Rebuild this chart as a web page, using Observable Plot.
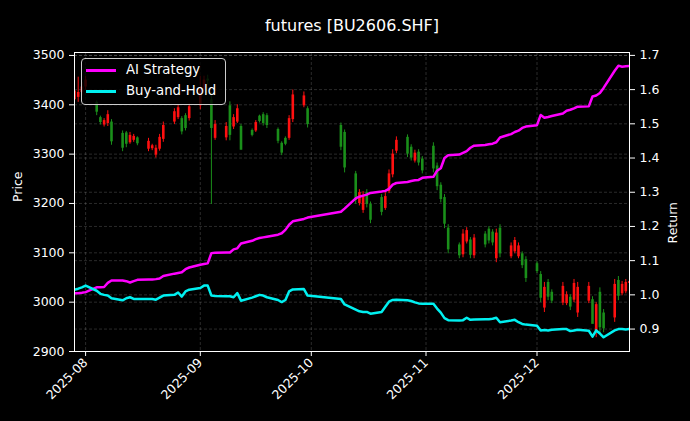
<!DOCTYPE html>
<html><head><meta charset="utf-8">
<script src="https://cdn.jsdelivr.net/npm/d3@7"></script>
<script src="https://cdn.jsdelivr.net/npm/@observablehq/plot@0.6"></script>
<style>
html,body{margin:0;padding:0;background:#000;}
#wrap{position:relative;width:690px;height:421px;overflow:hidden;font-family:"DejaVu Sans",sans-serif;}
#legend{position:absolute;left:81px;top:58px;width:145px;height:47px;box-sizing:border-box;border:1px solid #cccccc;border-radius:4px;background:rgba(0,0,0,0.8);color:#fff;font-size:13.3px;}
.sw{position:absolute;left:4px;width:30px;height:2.5px;}
.lt{position:absolute;left:44px;line-height:15px;white-space:nowrap;}
</style></head><body><div id="wrap"><div id="chart"></div><div id="legend"></div></div>
<script>
const dates = ["2025-07-29","2025-07-30","2025-07-31","2025-08-01","2025-08-04","2025-08-05","2025-08-06","2025-08-07","2025-08-08","2025-08-11","2025-08-12","2025-08-13","2025-08-14","2025-08-15","2025-08-18","2025-08-19","2025-08-20","2025-08-21","2025-08-22","2025-08-25","2025-08-26","2025-08-27","2025-08-28","2025-08-29","2025-09-01","2025-09-02","2025-09-03","2025-09-04","2025-09-05","2025-09-08","2025-09-09","2025-09-10","2025-09-11","2025-09-12","2025-09-15","2025-09-16","2025-09-17","2025-09-18","2025-09-19","2025-09-22","2025-09-23","2025-09-24","2025-09-25","2025-09-26","2025-09-29","2025-09-30","2025-10-09","2025-10-10","2025-10-13","2025-10-14","2025-10-15","2025-10-16","2025-10-17","2025-10-20","2025-10-21","2025-10-22","2025-10-23","2025-10-24","2025-10-27","2025-10-28","2025-10-29","2025-10-30","2025-10-31","2025-11-03","2025-11-04","2025-11-05","2025-11-06","2025-11-07","2025-11-10","2025-11-11","2025-11-12","2025-11-13","2025-11-14","2025-11-17","2025-11-18","2025-11-19","2025-11-20","2025-11-21","2025-11-24","2025-11-25","2025-11-26","2025-11-27","2025-11-28","2025-12-01","2025-12-02","2025-12-03","2025-12-04","2025-12-05","2025-12-08","2025-12-09","2025-12-10","2025-12-11","2025-12-12","2025-12-15","2025-12-16","2025-12-17","2025-12-18","2025-12-19","2025-12-22","2025-12-23","2025-12-24","2025-12-25","2025-12-26"];
const open  = [3410,3415,3425,3436,3405,3374,3359,3362,3365,3342,3343,3323,3328,3333,3310,3311,3298,3310,3330,3365,3374,3372,3378,3372,3398,3432,3452,3410,3332,3333,3398,3355,3365,3356,3348,3347,3377,3380,3378,3350,3322,3332,3332,3370,3398,3392,3358,3344,3260,3200,3186,3222,3198,3212,3190,3224,3258,3306,3334,3314,3286,3304,3290,3316,3276,3237,3212,3150,3116,3096,3122,3126,3094,3138,3148,3142,3088,3150,3092,3102,3092,3098,3086,3078,3056,2988,3040,3020,2998,2997,3010,3004,2978,3002,3005,2938,3020,2978,2968,3044,3017,3021,3038];
const high  = [3435,3456,3445,3458,3408,3377,3372,3388,3370,3347,3346,3344,3340,3335,3332,3320,3318,3340,3365,3392,3400,3376,3382,3402,3458,3458,3460,3425,3368,3364,3406,3380,3400,3360,3351,3368,3379,3384,3382,3353,3325,3335,3378,3430,3426,3396,3363,3349,3265,3228,3224,3228,3203,3218,3222,3268,3309,3335,3339,3319,3308,3309,3295,3323,3282,3242,3218,3157,3120,3147,3151,3131,3137,3143,3153,3147,3148,3157,3120,3131,3120,3102,3092,3082,3062,3040,3046,3025,3040,3021,3015,3046,3040,3040,3011,2999,3029,2985,3046,3052,3042,3046,3046];
const low   = [3405,3405,3418,3430,3378,3359,3355,3356,3318,3305,3313,3320,3324,3317,3305,3307,3292,3306,3324,3360,3370,3339,3347,3367,3390,3428,3440,3198,3328,3327,3327,3350,3362,3308,3335,3344,3363,3357,3352,3321,3297,3317,3328,3364,3394,3353,3307,3262,3198,3195,3180,3191,3159,3175,3186,3220,3252,3301,3293,3286,3282,3276,3260,3262,3226,3201,3149,3098,3088,3090,3118,3088,3088,3110,3118,3114,3080,3090,3088,3098,3088,3068,3040,3058,2999,2979,3003,2997,2993,2993,2983,2999,2969,2997,2957,2928,2936,2938,2959,3003,3013,3017,3030];
const close = [3428,3425,3436,3450,3385,3364,3368,3380,3325,3312,3320,3338,3336,3321,3326,3317,3312,3334,3358,3386,3394,3345,3352,3396,3430,3450,3448,3352,3360,3356,3338,3374,3392,3308,3338,3364,3366,3362,3358,3326,3302,3320,3372,3420,3418,3360,3314,3272,3206,3222,3216,3198,3166,3182,3214,3260,3300,3328,3300,3292,3302,3282,3266,3270,3234,3208,3158,3106,3094,3138,3145,3095,3130,3116,3124,3120,3140,3098,3114,3125,3114,3074,3048,3062,3008,3030,3010,3002,3032,3015,2990,3038,3030,3032,2955,2995,2948,2946,3036,3012,3036,3040,3042];
const aiStrategy = [1.005,1.005,1.006,1.008,1.022,1.022,1.023,1.035,1.042,1.042,1.040,1.036,1.040,1.044,1.045,1.045,1.046,1.048,1.055,1.062,1.064,1.066,1.075,1.080,1.088,1.090,1.092,1.122,1.123,1.124,1.124,1.133,1.136,1.150,1.158,1.163,1.166,1.168,1.170,1.176,1.180,1.190,1.205,1.215,1.222,1.226,1.243,1.252,1.282,1.287,1.290,1.293,1.298,1.302,1.304,1.310,1.322,1.327,1.330,1.333,1.335,1.336,1.342,1.345,1.363,1.370,1.400,1.408,1.410,1.415,1.420,1.430,1.436,1.438,1.440,1.442,1.446,1.460,1.470,1.476,1.480,1.488,1.492,1.496,1.526,1.518,1.520,1.523,1.530,1.538,1.541,1.545,1.550,1.551,1.580,1.583,1.590,1.605,1.655,1.670,1.667,1.668,1.669];
const buyHold = [1.015,1.018,1.022,1.027,1.012,1.003,1.000,0.998,0.990,0.984,0.990,0.993,0.988,0.988,0.988,0.988,0.986,0.992,0.998,1.000,1.007,0.995,1.010,1.015,1.020,1.027,1.027,0.998,0.997,0.996,0.996,0.993,1.005,0.983,0.992,0.996,1.000,0.998,0.993,0.985,0.979,0.985,1.010,1.016,1.017,0.998,0.988,0.972,0.957,0.952,0.950,0.950,0.945,0.950,0.965,0.980,0.985,0.986,0.984,0.982,0.978,0.975,0.974,0.974,0.960,0.948,0.932,0.926,0.925,0.926,0.933,0.927,0.928,0.929,0.929,0.930,0.933,0.920,0.925,0.927,0.920,0.915,0.913,0.910,0.896,0.897,0.896,0.898,0.900,0.900,0.894,0.896,0.898,0.895,0.878,0.896,0.887,0.876,0.896,0.900,0.900,0.899,0.900];
const priceTicks = [2900,3000,3100,3200,3300,3400,3500];
const returnTicks = [0.9,1.0,1.1,1.2,1.3,1.4,1.5,1.6,1.7];
const monthTicks = ["2025-08-01","2025-09-01","2025-10-01","2025-11-01","2025-12-01"];
const seriesNames = ["AI Strategy","Buy-and-Hold"];
const seriesColors = ["#ff00ff","#00f0f0"];
const titleText = "futures [BU2606.SHF]";

// twin-axis mapping: return -> price coordinate
const toP = r => 3014.8 + (r - 1) * 693.3;
const fromP = p => (p - 3014.8) / 693.3 + 1;

const rows = dates.map((d, i) => ({
  date: new Date(d), o: open[i], h: high[i], l: low[i], c: close[i],
  ai: toP(aiStrategy[i]), bh: toP(buyHold[i])
}));
const up = rows.filter(d => d.c >= d.o);
const down = rows.filter(d => d.c < d.o);
const months = monthTicks.map(d => new Date(d));
const gridStyle = {stroke: "#b0b0b0", strokeOpacity: 0.3, strokeDasharray: "3,2", strokeWidth: 0.8};
const RED = "#ff1010", GREEN = "#1a8f1a";

const chart = Plot.plot({
  width: 690, height: 421,
  marginLeft: 74, marginRight: 61, marginTop: 52, marginBottom: 70,
  style: {background: "#000", color: "#fff", fontFamily: "DejaVu Sans", fontSize: "12.5px", overflow: "visible"},
  x: {type: "utc", domain: [new Date("2025-07-29"), new Date("2025-12-26")]},
  y: {domain: [2900, 3506]},
  marks: [
    Plot.gridY(priceTicks, gridStyle),
    Plot.gridY(returnTicks.map(toP), gridStyle),
    Plot.gridX(months, gridStyle),
    Plot.ruleX(up, {x: "date", y1: "l", y2: "h", stroke: RED, strokeWidth: 1, clip: true}),
    Plot.ruleX(up, {x: "date", y1: "o", y2: "c", stroke: RED, strokeWidth: 2.6, clip: true}),
    Plot.ruleX(down, {x: "date", y1: "l", y2: "h", stroke: GREEN, strokeWidth: 1, clip: true}),
    Plot.ruleX(down, {x: "date", y1: "o", y2: "c", stroke: GREEN, strokeWidth: 2.6, clip: true}),
    Plot.line(rows, {x: "date", y: "ai", stroke: seriesColors[0], strokeWidth: 2.5, clip: true}),
    Plot.line(rows, {x: "date", y: "bh", stroke: seriesColors[1], strokeWidth: 2.5, clip: true}),
    Plot.frame({stroke: "#fff", strokeWidth: 1}),
    Plot.axisY(priceTicks, {anchor: "left", tickSize: 5, tickPadding: 5, label: null, tickFormat: d => String(d)}),
    Plot.axisY(returnTicks.map(toP), {anchor: "right", tickSize: 5, tickPadding: 5, label: null, tickFormat: d => fromP(d).toFixed(1)}),
    Plot.axisX(months, {anchor: "bottom", tickSize: 5, tickPadding: 4, tickRotate: -45, label: null, tickFormat: d3.utcFormat("%Y-%m")}),
    Plot.text([titleText], {frameAnchor: "top", dy: -33, text: d => d, fill: "#fff", fontSize: 16}),
    Plot.text(["Price"], {frameAnchor: "left", dx: -57, rotate: -90, text: d => d, fill: "#fff", fontSize: 12.5}),
    Plot.text(["Return"], {frameAnchor: "right", dx: 43, rotate: -90, text: d => d, fill: "#fff", fontSize: 12.5})
  ]
});
document.getElementById("chart").appendChild(chart);

const legend = document.getElementById("legend");
seriesNames.forEach((name, i) => {
  const top = i === 0 ? 10 : 31;
  const sw = document.createElement("div");
  sw.className = "sw"; sw.style.top = (top) + "px"; sw.style.background = seriesColors[i];
  const t = document.createElement("div");
  t.className = "lt"; t.style.top = (top - 7) + "px"; t.textContent = name;
  legend.appendChild(sw); legend.appendChild(t);
});
</script></body></html>
